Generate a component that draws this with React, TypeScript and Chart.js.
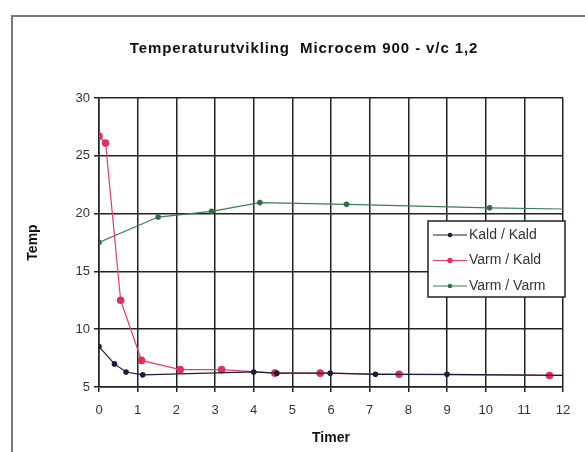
import React, { useEffect, useRef } from "react";
import { Chart, registerables } from "chart.js";

Chart.register(...registerables);

const TITLE = "Temperaturutvikling  Microcem 900 - v/c 1,2";
const X_TITLE = "Timer";
const Y_TITLE = "Temp";

const kaldKaldX = [0, 0.4, 0.7, 1.13, 4.0, 4.6, 5.98, 7.15, 9.0, 12];
const kaldKaldY = [8.5, 7.0, 6.3, 6.05, 6.3, 6.2, 6.2, 6.1, 6.1, 6.0];

const varmKaldX = [0, 0.17, 0.56, 1.1, 2.1, 3.17, 4.55, 5.72, 7.76, 11.65, 12];
const varmKaldY = [26.7, 26.1, 12.5, 7.3, 6.5, 6.5, 6.2, 6.2, 6.1, 6.0, 6.0];

const varmVarmX = [0, 1.53, 2.91, 4.16, 6.4, 10.1, 12];
const varmVarmY = [17.5, 19.7, 20.2, 20.95, 20.8, 20.5, 20.4];

const X_MIN = 0;
const X_MAX = 12;
const Y_MIN = 5;
const Y_MAX = 30;

const FONT = "'Liberation Sans', Arial, sans-serif";

function toPoints(xs: number[], ys: number[]) {
  return xs.map((x, i) => ({ x, y: ys[i] }));
}

function radii(xs: number[], r: number) {
  return xs.map((x, i) => (i === xs.length - 1 && x === X_MAX ? 0 : r));
}

const titlePlugin = {
  id: "wideTitle",
  afterDraw(chart: any) {
    const { ctx, chartArea } = chart;
    ctx.save();
    ctx.font = `bold 15px ${FONT}`;
    (ctx as any).letterSpacing = "0.9px";
    ctx.fillStyle = "#111";
    ctx.textAlign = "center";
    ctx.textBaseline = "middle";
    ctx.fillText(TITLE, (chartArea.left + chartArea.right) / 2 - 27, chartArea.top - 49);
    ctx.restore();
  },
};

const legendPlugin = {
  id: "boxLegend",
  afterDraw(chart: any) {
    const { ctx, chartArea } = chart;
    const w = 137;
    const h = 76;
    const x0 = chartArea.right + 2 - w;
    const y0 = chartArea.top + 123;
    ctx.save();
    ctx.fillStyle = "#ffffff";
    ctx.fillRect(x0, y0, w, h);
    ctx.strokeStyle = "#222";
    ctx.lineWidth = 1.5;
    ctx.strokeRect(x0, y0, w, h);
    ctx.font = `14px ${FONT}`;
    ctx.textBaseline = "middle";
    chart.data.datasets.forEach((ds: any, i: number) => {
      const cy = y0 + 14 + i * 25.5;
      ctx.strokeStyle = ds.borderColor;
      ctx.lineWidth = 1.2;
      ctx.beginPath();
      ctx.moveTo(x0 + 5, cy);
      ctx.lineTo(x0 + 39, cy);
      ctx.stroke();
      ctx.fillStyle = ds.pointBackgroundColor;
      ctx.beginPath();
      ctx.arc(x0 + 22, cy, ds.legendRadius, 0, Math.PI * 2);
      ctx.fill();
      ctx.fillStyle = "#333";
      ctx.fillText(ds.label, x0 + 41, cy);
    });
    ctx.restore();
  },
};

export default function App() {
  const ref = useRef<HTMLCanvasElement | null>(null);

  useEffect(() => {
    document.body.style.margin = "0";
    const canvas = ref.current;
    if (!canvas) return;
    const chart = new Chart(canvas, {
      type: "scatter",
      data: {
        datasets: [
          {
            label: "Kald / Kald",
            data: toPoints(kaldKaldX, kaldKaldY),
            showLine: true,
            borderColor: "#1c1c3a",
            backgroundColor: "#1c1c3a",
            pointBackgroundColor: "#1c1c3a",
            pointBorderWidth: 0,
            pointRadius: radii(kaldKaldX, 2.8),
            borderWidth: 1.2,
            legendRadius: 2.3,
          } as any,
          {
            label: "Varm / Kald",
            data: toPoints(varmKaldX, varmKaldY),
            showLine: true,
            borderColor: "#e0406a",
            backgroundColor: "#e0305e",
            pointBackgroundColor: "#e0305e",
            pointBorderWidth: 0,
            pointRadius: radii(varmKaldX, 3.8),
            borderWidth: 1.2,
            legendRadius: 2.7,
          } as any,
          {
            label: "Varm / Varm",
            data: toPoints(varmVarmX, varmVarmY),
            showLine: true,
            borderColor: "#3d7d55",
            backgroundColor: "#2f6f48",
            pointBackgroundColor: "#2f6f48",
            pointBorderWidth: 0,
            pointRadius: radii(varmVarmX, 2.8),
            borderWidth: 1.2,
            legendRadius: 2.3,
          } as any,
        ],
      },
      options: {
        animation: false,
        responsive: false,
        maintainAspectRatio: false,
        layout: { padding: { left: 0, right: 22, top: 98, bottom: 0 } },
        plugins: {
          legend: { display: false },
          tooltip: { enabled: false },
          title: { display: false },
        },
        scales: {
          x: {
            type: "linear",
            min: X_MIN,
            max: X_MAX,
            afterFit: (s: any) => {
              s.height = 65;
            },
            ticks: {
              stepSize: 1,
              color: "#333",
              padding: 11,
              font: { family: FONT, size: 13 },
            },
            grid: {
              color: "#222",
              lineWidth: 1.5,
              tickLength: 5,
              drawTicks: true,
            },
            border: { color: "#222", width: 1.5 },
            title: {
              display: true,
              text: X_TITLE,
              color: "#111",
              font: { family: FONT, size: 14, weight: "bold" },
              padding: { top: 4, bottom: 5 },
            },
          },
          y: {
            type: "linear",
            min: Y_MIN,
            max: Y_MAX,
            afterFit: (s: any) => {
              s.width = 99;
            },
            ticks: {
              stepSize: 5,
              color: "#333",
              padding: 4,
              font: { family: FONT, size: 13 },
            },
            grid: {
              color: "#222",
              lineWidth: 1.5,
              tickLength: 5,
              drawTicks: true,
            },
            border: { color: "#222", width: 1.5 },
            title: {
              display: true,
              text: Y_TITLE,
              color: "#111",
              font: { family: FONT, size: 14, weight: "bold" },
              padding: { top: 25, bottom: 4 },
            },
          },
        },
      },
      plugins: [legendPlugin, titlePlugin],
    });
    return () => chart.destroy();
  }, []);

  return (
    <div style={{ position: "relative", width: 585, height: 452, background: "#fff" }}>
      <canvas ref={ref} width={585} height={452} style={{ position: "absolute", left: 0, top: 0 }} />
      <div
        style={{
          position: "absolute",
          left: 11,
          top: 15,
          width: 585 - 11,
          height: 452 - 15,
          borderLeft: "2px solid #777",
          borderTop: "2px solid #777",
          pointerEvents: "none",
        }}
      />
    </div>
  );
}
